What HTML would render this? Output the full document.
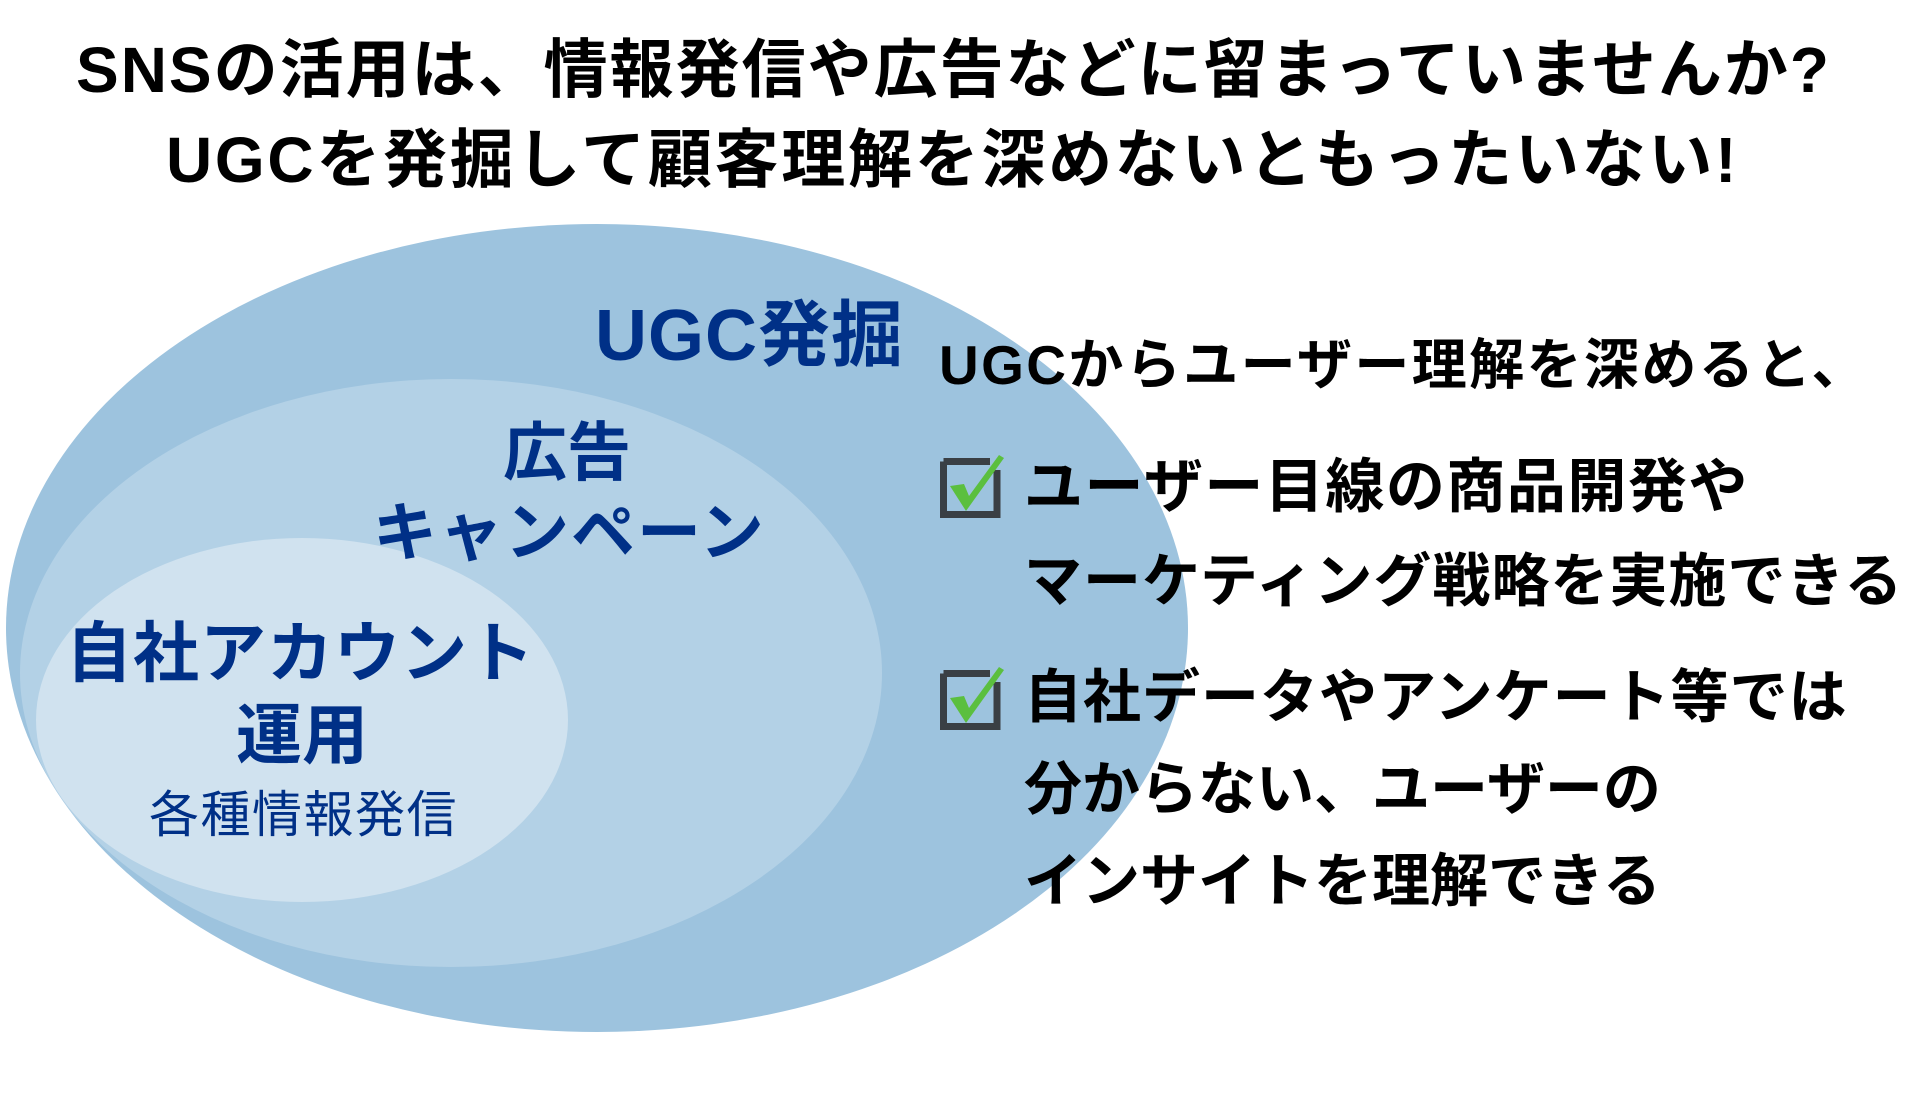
<!DOCTYPE html>
<html><head><meta charset="utf-8"><style>
body{margin:0;width:1920px;height:1100px;background:#fff;overflow:hidden;position:relative;font-family:"Liberation Sans","Noto Sans CJK JP",sans-serif;font-weight:bold}
.t{position:absolute;white-space:nowrap;line-height:1}
.b{color:#003087}
.k{color:#000}
</style></head><body>
<svg width="1920" height="1100" style="position:absolute;left:0;top:0">
<ellipse cx="597" cy="628" rx="591" ry="404" fill="#9dc3de"/>
<ellipse cx="451" cy="673" rx="431" ry="294" fill="#b3d1e6"/>
<ellipse cx="302" cy="720" rx="266" ry="182" fill="#d0e2ef"/>
<g>
<path d="M943.5 461.5 H990 M997 470 V514.5 H943.5 V461.5" fill="none" stroke="#3a3f44" stroke-width="7"/>
<path d="M950 486 L964 484 L969 496 L999 455 L1004 458 L966 511 Z" fill="#5bbf3f"/>
</g>
<g transform="translate(0,212)">
<path d="M943.5 461.5 H990 M997 470 V514.5 H943.5 V461.5" fill="none" stroke="#3a3f44" stroke-width="7"/>
<path d="M950 486 L964 484 L969 496 L999 455 L1004 458 L966 511 Z" fill="#5bbf3f"/>
</g>
</svg>
<div class="t k" style="left:76px;top:38px;font-size:64px;letter-spacing:2px">SNSの活用は、情報発信や広告などに留まっていませんか?</div>
<div class="t k" style="left:166px;top:128px;font-size:64px;letter-spacing:2.7px">UGCを発掘して顧客理解を深めないともったいない!</div>
<div class="t b" style="left:595px;top:300px;font-size:72px;letter-spacing:1px">UGC発掘</div>
<div class="t b" style="left:503px;top:421px;font-size:64px">広告</div>
<div class="t b" style="left:373px;top:501px;font-size:64px;letter-spacing:2px">キャンペーン</div>
<div class="t b" style="left:66px;top:620px;font-size:66px;letter-spacing:1px">自社アカウント</div>
<div class="t b" style="left:236px;top:702px;font-size:66px">運用</div>
<div class="t b" style="left:149px;top:790px;font-size:50px;font-weight:normal;letter-spacing:1.5px">各種情報発信</div>
<div class="t k" style="left:939px;top:338px;font-size:55px;letter-spacing:2.4px">UGCからユーザー理解を深めると、</div>
<div class="t k" style="left:1024px;top:458px;font-size:59px;letter-spacing:1.5px">ユーザー目線の商品開発や</div>
<div class="t k" style="left:1024px;top:553px;font-size:58px;letter-spacing:1px">マーケティング戦略を実施できる</div>
<div class="t k" style="left:1024px;top:669px;font-size:58px;letter-spacing:1px">自社データやアンケート等では</div>
<div class="t k" style="left:1024px;top:761px;font-size:58px">分からない、ユーザーの</div>
<div class="t k" style="left:1024px;top:853px;font-size:58px">インサイトを理解できる</div>
</body></html>
